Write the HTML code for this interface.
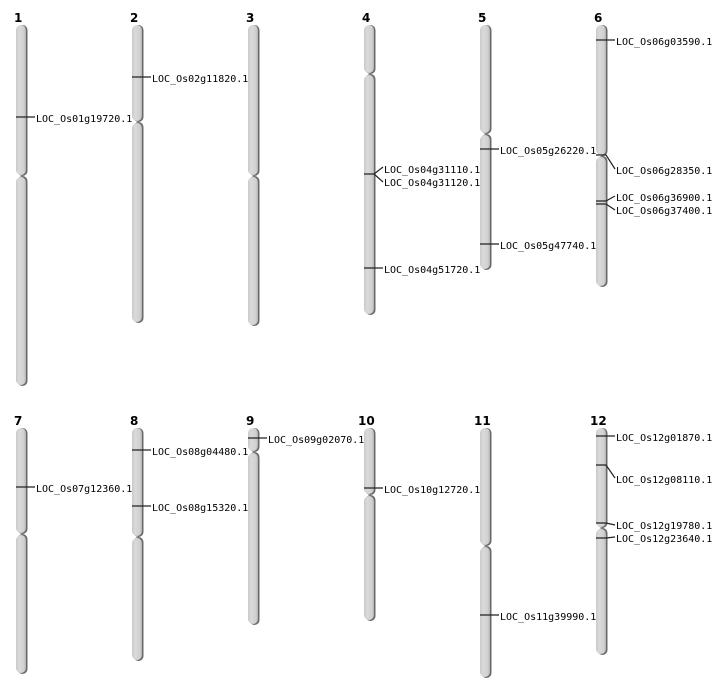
<!DOCTYPE html>
<html><head><style>body{margin:0;background:#fff}svg{display:block}</style></head><body>
<svg width="712" height="700" xmlns="http://www.w3.org/2000/svg">
<defs>
<linearGradient id="g" x1="0" x2="1" y1="0" y2="0">
<stop offset="0" stop-color="#c8c8c8"/><stop offset="0.3" stop-color="#dadada"/><stop offset="0.8" stop-color="#d0d0d0"/><stop offset="1" stop-color="#b0b0b0"/>
</linearGradient>
<g id="x"></g>
</defs>
<g font-family="'DejaVu Sans', sans-serif" font-weight="bold" font-size="12" fill="#000">
<text x="14" y="22">1</text><text x="130" y="22">2</text><text x="246" y="22">3</text><text x="362" y="22">4</text><text x="478" y="22">5</text><text x="594" y="22">6</text>
<text x="14" y="425">7</text><text x="130" y="425">8</text><text x="246" y="425">9</text><text x="358" y="425">10</text><text x="474" y="425">11</text><text x="590" y="425">12</text>
</g>
<g stroke="none">
<!-- shadows -->
<g fill="#6a6a6a">
<rect x="17.5" y="25" width="10" height="151" rx="5"/><rect x="17.5" y="176" width="10" height="210" rx="5"/>
<rect x="133.5" y="25" width="10" height="97" rx="5"/><rect x="133.5" y="122" width="10" height="201" rx="5"/>
<rect x="249.5" y="25" width="10" height="151" rx="5"/><rect x="249.5" y="176" width="10" height="150" rx="5"/>
<rect x="365.5" y="25" width="10" height="49" rx="5"/><rect x="365.5" y="74" width="10" height="241" rx="5"/>
<rect x="481.5" y="25" width="10" height="109" rx="5"/><rect x="481.5" y="134" width="10" height="136" rx="5"/>
<rect x="597.5" y="25" width="10" height="131" rx="5"/><rect x="597.5" y="156" width="10" height="131" rx="5"/>
<rect x="17.5" y="428" width="10" height="106" rx="5"/><rect x="17.5" y="534" width="10" height="140" rx="5"/>
<rect x="133.5" y="428" width="10" height="109" rx="5"/><rect x="133.5" y="537" width="10" height="124" rx="5"/>
<rect x="249.5" y="428" width="10" height="24" rx="5"/><rect x="249.5" y="452" width="10" height="173" rx="5"/>
<rect x="365.5" y="428" width="10" height="67" rx="5"/><rect x="365.5" y="495" width="10" height="126" rx="5"/>
<rect x="481.5" y="428" width="10" height="118" rx="5"/><rect x="481.5" y="546" width="10" height="132" rx="5"/>
<rect x="597.5" y="428" width="10" height="100" rx="5"/><rect x="597.5" y="528" width="10" height="127" rx="5"/>
</g>
<g fill="url(#g)">
<rect x="16" y="25" width="10" height="150" rx="5"/><rect x="16" y="177" width="10" height="208" rx="5"/>
<rect x="132" y="25" width="10" height="96" rx="5"/><rect x="132" y="123" width="10" height="199" rx="5"/>
<rect x="248" y="25" width="10" height="150" rx="5"/><rect x="248" y="177" width="10" height="148" rx="5"/>
<rect x="364" y="25" width="10" height="48" rx="5"/><rect x="364" y="75" width="10" height="239" rx="5"/>
<rect x="480" y="25" width="10" height="108" rx="5"/><rect x="480" y="135" width="10" height="134" rx="5"/>
<rect x="596" y="25" width="10" height="130" rx="5"/><rect x="596" y="157" width="10" height="129" rx="5"/>
<rect x="16" y="428" width="10" height="105" rx="5"/><rect x="16" y="535" width="10" height="138" rx="5"/>
<rect x="132" y="428" width="10" height="108" rx="5"/><rect x="132" y="538" width="10" height="122" rx="5"/>
<rect x="248" y="428" width="10" height="23" rx="5"/><rect x="248" y="453" width="10" height="171" rx="5"/>
<rect x="364" y="428" width="10" height="66" rx="5"/><rect x="364" y="496" width="10" height="124" rx="5"/>
<rect x="480" y="428" width="10" height="117" rx="5"/><rect x="480" y="547" width="10" height="130" rx="5"/>
<rect x="596" y="428" width="10" height="99" rx="5"/><rect x="596" y="529" width="10" height="125" rx="5"/>
</g>
</g>
<g stroke="#222" stroke-width="1.2" fill="none">
<path d="M16 117H35"/><path d="M132 77H151"/>
<path d="M364 174H374L383 167M374 174L383 182"/><path d="M364 268H383"/>
<path d="M480 149H499"/><path d="M480 244H499"/>
<path d="M596 40H615"/><path d="M596 155H606L615 169"/><path d="M596 201H606L615 196M596 204H606L615 210"/>
<path d="M16 487H35"/><path d="M132 450H151"/><path d="M132 506H151"/>
<path d="M248 438H267"/><path d="M364 488H383"/><path d="M480 615H499"/>
<path d="M596 436H615"/><path d="M596 465H606L615 478"/><path d="M596 523H606L615 525"/><path d="M596 538H606L615 537"/>
</g>
<g font-family="'DejaVu Sans Mono', 'Liberation Mono', monospace" font-size="10" fill="#000">
<text x="36" y="122">LOC_Os01g19720.1</text>
<text x="152" y="82">LOC_Os02g11820.1</text>
<text x="384" y="173">LOC_Os04g31110.1</text><text x="384" y="186">LOC_Os04g31120.1</text>
<text x="384" y="273">LOC_Os04g51720.1</text>
<text x="500" y="154">LOC_Os05g26220.1</text><text x="500" y="249">LOC_Os05g47740.1</text>
<text x="616" y="45">LOC_Os06g03590.1</text><text x="616" y="174">LOC_Os06g28350.1</text>
<text x="616" y="201">LOC_Os06g36900.1</text><text x="616" y="214">LOC_Os06g37400.1</text>
<text x="36" y="492">LOC_Os07g12360.1</text>
<text x="152" y="455">LOC_Os08g04480.1</text><text x="152" y="511">LOC_Os08g15320.1</text>
<text x="268" y="443">LOC_Os09g02070.1</text>
<text x="384" y="493">LOC_Os10g12720.1</text>
<text x="500" y="620">LOC_Os11g39990.1</text>
<text x="616" y="441">LOC_Os12g01870.1</text><text x="616" y="483">LOC_Os12g08110.1</text>
<text x="616" y="529">LOC_Os12g19780.1</text><text x="616" y="542">LOC_Os12g23640.1</text>
</g>
</svg>
</body></html>
